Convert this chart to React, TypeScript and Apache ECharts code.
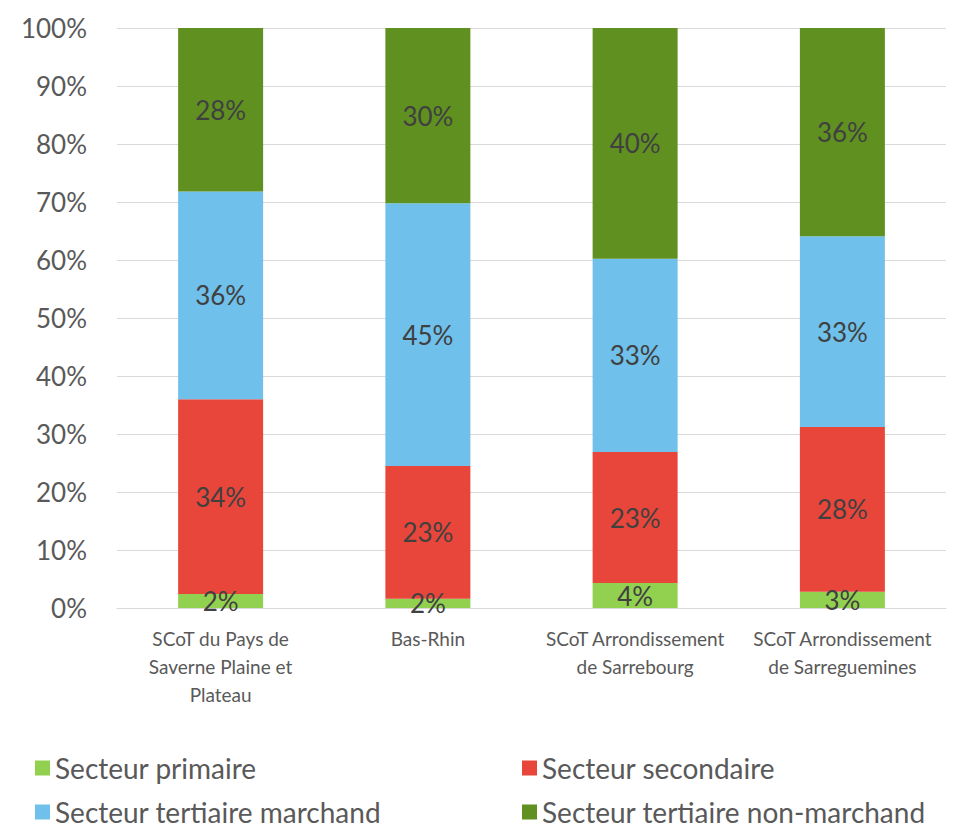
import React, { useEffect, useRef } from "react";
import * as echarts from "echarts";

const categories = [
  "SCoT du Pays de\nSaverne Plaine et\nPlateau",
  "Bas-Rhin",
  "SCoT Arrondissement\nde Sarrebourg",
  "SCoT Arrondissement\nde Sarreguemines",
];
const primaire = [2.4, 1.6, 4.3, 2.8];
const secondaire = [33.6, 22.9, 22.6, 28.4];
const tertiaireMarchand = [35.8, 45.3, 33.3, 32.9];
const tertiaireNonMarchand = [28.2, 30.2, 39.8, 35.9];
const seriesNames = [
  "Secteur primaire",
  "Secteur secondaire",
  "Secteur tertiaire marchand",
  "Secteur tertiaire non-marchand",
];
const colors = ["#92D050", "#E8463B", "#6FC0EA", "#5F9020"];

const FONT = "Lato, 'Open Sans', sans-serif";

export default function App() {
  const ref = useRef<HTMLDivElement>(null);
  useEffect(() => {
    document.body.style.margin = "0";
    const chart = echarts.init(ref.current!, null, { renderer: "svg" });
    const datasets = [primaire, secondaire, tertiaireMarchand, tertiaireNonMarchand];
    const legendPos = [
      { left: 35, top: 754 },
      { left: 522, top: 754 },
      { left: 35, top: 798 },
      { left: 522, top: 798 },
    ];
    chart.setOption({
      animation: false,
      backgroundColor: "#ffffff",
      grid: { left: 117, right: 13, top: 28, bottom: 221, containLabel: false },
      legend: seriesNames.map((n, i) => ({
        data: [n],
        left: legendPos[i].left,
        top: legendPos[i].top,
        padding: 0,
        icon: "rect",
        itemWidth: 15,
        itemHeight: 15,
        selectedMode: false,
        textStyle: { fontFamily: FONT, fontSize: 28, color: "#595959" },
      })),
      xAxis: {
        type: "category",
        data: categories,
        axisLine: { show: true, lineStyle: { color: "#d9d9d9", width: 1 } },
        axisTick: { show: false },
        axisLabel: {
          fontFamily: FONT,
          fontSize: 19,
          color: "#595959",
          lineHeight: 28,
          margin: 16,
          interval: 0,
        },
      },
      yAxis: {
        type: "value",
        min: 0,
        max: 100,
        interval: 10,
        axisLine: { show: false },
        axisTick: { show: false },
        splitLine: { lineStyle: { color: "#d9d9d9", width: 1 } },
        axisLabel: {
          fontFamily: FONT,
          fontSize: 26,
          color: "#595959",
          margin: 30,
          formatter: (v: number) => v + "%",
        },
      },
      series: seriesNames.map((n, i) => ({
        name: n,
        type: "bar",
        stack: "total",
        barWidth: 85,
        data: datasets[i],
        itemStyle: { color: colors[i] },
        label: {
          show: true,
          position: "inside",
          fontFamily: FONT,
          fontSize: 26,
          color: "#404040",
          formatter: (p: any) => Math.round(p.value) + "%",
        },
      })),
    });
    return () => chart.dispose();
  }, []);
  return (
    <div
      ref={ref}
      style={{ width: 959, height: 829, position: "absolute", left: 0, top: 0 }}
    />
  );
}
